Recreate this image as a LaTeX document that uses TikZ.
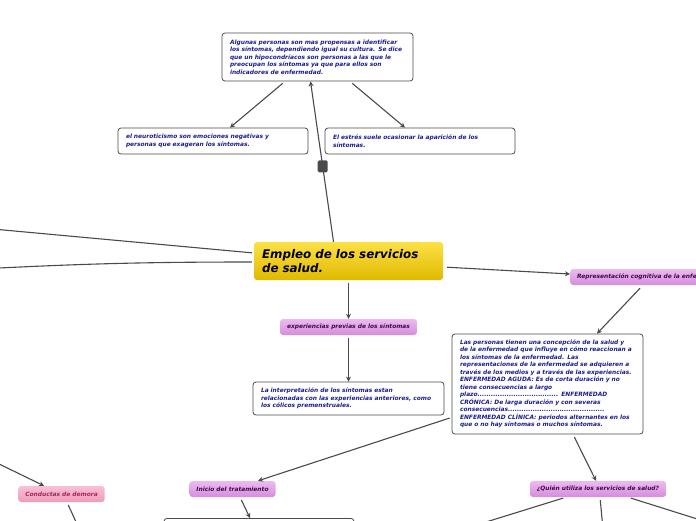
\documentclass[tikz,border=0pt]{standalone}
\usepackage{fontspec}
\setmainfont{DejaVu Sans}
\usetikzlibrary{arrows.meta, positioning}
\definecolor{InkBlue}{HTML}{1C1C8E}
\definecolor{EdgeGray}{HTML}{4A4A4A}
\definecolor{SunTop}{HTML}{FCE146}
\definecolor{SunBottom}{HTML}{E0B800}
\definecolor{LilacTop}{HTML}{EDBAF0}
\definecolor{LilacBottom}{HTML}{D58DDB}
\definecolor{PlumText}{HTML}{3D0A4A}
\definecolor{RoseTop}{HTML}{F9C0D4}
\definecolor{RoseBottom}{HTML}{EE9BB9}
\definecolor{RoseText}{HTML}{A8245A}

\tikzset{
  notebox/.style={draw=EdgeGray, line width=0.8pt, fill=white, rounded corners=3pt,
    align=left, inner xsep=8pt, inner ysep=0pt,
    font=\fontsize{5.9}{7.5}\selectfont\bfseries\itshape\color{InkBlue}},
  mainbox/.style={top color=SunTop, bottom color=SunBottom, rounded corners=3pt,
    align=left, inner xsep=8pt, inner ysep=0pt, text width=173pt, minimum height=38pt,
    font=\fontsize{11.9}{13.5}\selectfont\bfseries\itshape},
  topicbox/.style={top color=LilacTop, bottom color=LilacBottom, rounded corners=3pt,
    inner xsep=7pt, inner ysep=0pt, minimum height=16pt,
    font=\fontsize{5.9}{7}\selectfont\bfseries\itshape\color{PlumText}},
  delaybox/.style={top color=RoseTop, bottom color=RoseBottom, rounded corners=3pt,
    inner xsep=7pt, inner ysep=0pt, minimum height=16pt,
    font=\fontsize{5.9}{7}\selectfont\bfseries\itshape\color{RoseText}},
  knob/.style={fill=EdgeGray, rounded corners=1.5pt, inner sep=0pt,
    minimum width=10pt, minimum height=12pt},
  link/.style={draw=EdgeGray, line width=1.1pt, -{Stealth[length=5pt,width=5pt]}}
}

\begin{document}
\begin{tikzpicture}[x=1pt, y=-1pt]
  \useasboundingbox (0,0) rectangle (696,520);

  % main topic
  \node[mainbox] (empleo) at (348.5,261) {Empleo de los servicios\\de salud.};

  % upper branch
  \node[notebox, text width=175pt, minimum height=48pt] (sint) at (317.5,57)
    {Algunas personas son mas propensas a identificar\\
     los síntomas, dependiendo igual su cultura. Se dice\\
     que un hipocondríacos son personas a las que le\\
     preocupan los síntomas ya que para ellos son\\
     indicadores de enfermedad.};
  \node[notebox, text width=174pt, minimum height=26pt] (neuro) at (213,141)
    {el neuroticismo son emociones negativas y\\personas que exageran los síntomas.};
  \node[notebox, text width=174pt, minimum height=26pt] (estres) at (420,141)
    {El estrés suele ocasionar la aparición de los\\síntomas.};

  % lower branch
  \node[topicbox] (previas) at (348.5,327) {experiencias previas de los síntomas};
  \node[notebox, text width=175pt, minimum height=33pt] (interp) at (348.5,398.5)
    {La interpretación de los síntomas estan\\
     relacionadas con las experiencias anteriores, como\\
     los cólicos premenstruales.};

  % right branch
  \node[topicbox, anchor=west] (repres) at (570,277) {Representación cognitiva de la enfermedad};
  \node[notebox, text width=175pt, minimum height=100pt] (concep) at (547.5,384)
    {Las personas tienen una concepción de la salud y\\
     de la enfermedad que influye en cómo reaccionan a\\
     los síntomas de la enfermedad. Las\\
     representaciones de la enfermedad se adquieren a\\
     través de los medios y a través de las experiencias.\\
     ENFERMEDAD AGUDA: Es de corta duración y no\\
     tiene consecuencias a largo\\
     plazo.................................... ENFERMEDAD\\
     CRÓNICA: De larga duración y con severas\\
     consecuencias...........................................\\
     ENFERMEDAD CLÍNICA: periodos alternantes en los\\
     que o no hay síntomas o muchos síntomas.};
  \node[topicbox] (inicio) at (232.5,489) {Inicio del tratamiento};
  \node[topicbox] (quien) at (598,489) {¿Quién utiliza los servicios de salud?};
  \node[notebox, text width=174pt, minimum height=40pt, anchor=north] (lower) at (259,518) {};

  % left branch
  \node[delaybox] (demora) at (61.5,494) {Conductas de demora};

  % loose ends
  \coordinate (w1) at (-40,226);
  \coordinate (w2) at (-40,270);
  \coordinate (d0) at (-40,445);
  \coordinate (d1) at (82,535);
  \coordinate (q1) at (428,540);
  \coordinate (q2) at (604,540);
  \coordinate (q3) at (764,540);

  % connectors
  \draw[link, shorten <=3pt] ([xshift=-32.5pt]sint.south) -- ([xshift=17pt]neuro.north);
  \draw[link, shorten <=3pt] ([xshift=32.5pt]sint.south) -- ([xshift=-15pt]estres.north);
  \draw[link] ([xshift=-15pt]empleo.north) -- node[knob, pos=0.47] (grip) {} ([xshift=-7pt]sint.south);
  \draw[link, shorten <=3pt] (empleo.south) -- (previas.north);
  \draw[link, shorten <=3pt] (previas.south) -- (interp.north);
  \draw[link, shorten <=4pt] ([yshift=-6pt]empleo.east) -- ([yshift=3pt]repres.west);
  \draw[link] ([xshift=70pt,yshift=-3pt]repres.south west) -- ([xshift=49.5pt]concep.north);
  \draw[link, shorten <=2pt] ([yshift=17pt]concep.south west) -- ([xshift=25.5pt]inicio.north);
  \draw[link, shorten <=3pt] ([xshift=7.5pt]inicio.south) -- ([xshift=-9pt]lower.north);
  \draw[link, shorten <=3pt] ([xshift=25.5pt]concep.south) -- ([xshift=-2pt]quien.north);
  \draw[link, shorten <=3pt] ([xshift=-32pt]quien.south) -- (q1);
  \draw[link, shorten <=3pt] ([xshift=2pt]quien.south) -- (q2);
  \draw[link, shorten <=3pt] ([xshift=30pt]quien.south) -- (q3);
  \draw[link] (d0) -- ([xshift=-17.5pt]demora.north);
  \draw[link, shorten <=3pt] ([xshift=5.5pt]demora.south) -- (d1);
  \draw[link, shorten <=2pt] ([yshift=8pt]empleo.west) -- (w1);
  \draw[link, shorten <=2pt] ([yshift=-1pt]empleo.west) to[out=180, in=3] (w2);
\end{tikzpicture}
\end{document}
